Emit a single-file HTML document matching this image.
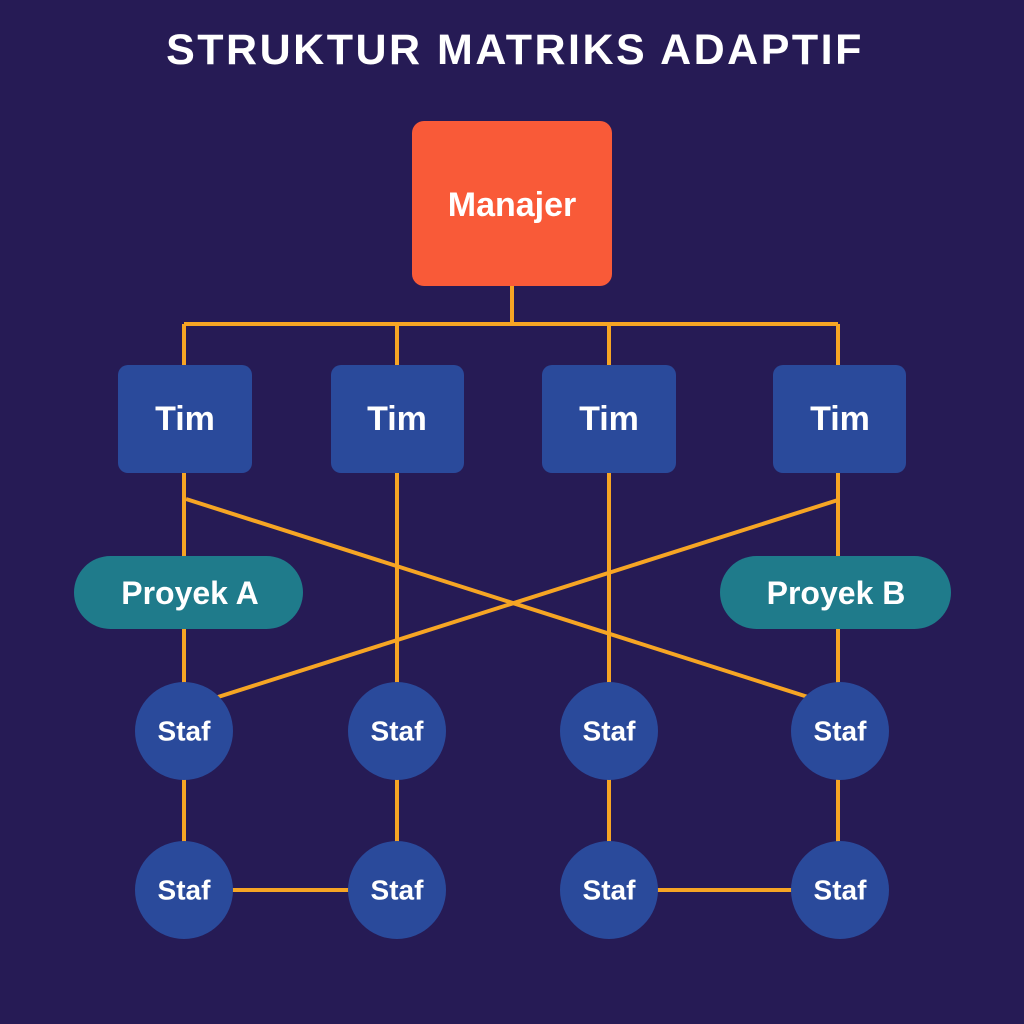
<!DOCTYPE html>
<html><head><style>
html,body{margin:0;padding:0;background:#261b55;}
svg{display:block}
text{font-family:"Liberation Sans",sans-serif;font-weight:bold;fill:#fff;text-anchor:middle;dominant-baseline:central}
</style></head><body>
<svg width="1024" height="1024" viewBox="0 0 1024 1024">
<rect width="1024" height="1024" fill="#261b55"/>
<text x="515" y="50" font-size="43" letter-spacing="2.5">STRUKTUR MATRIKS ADAPTIF</text>
<g stroke="#f6a524" stroke-width="4" fill="none">
<line x1="512" y1="286" x2="512" y2="324"/>
<line x1="184" y1="324" x2="838" y2="324"/>
<line x1="184" y1="324" x2="184" y2="366"/>
<line x1="397" y1="324" x2="397" y2="366"/>
<line x1="609" y1="324" x2="609" y2="366"/>
<line x1="838" y1="324" x2="838" y2="366"/>
<line x1="184" y1="473" x2="184" y2="890"/>
<line x1="397" y1="473" x2="397" y2="890"/>
<line x1="609" y1="473" x2="609" y2="890"/>
<line x1="838" y1="473" x2="838" y2="890"/>
<line x1="186" y1="499" x2="808" y2="697"/>
<line x1="838" y1="500" x2="218" y2="697"/>
<line x1="184" y1="890" x2="397" y2="890"/>
<line x1="609" y1="890" x2="838" y2="890"/>
</g>
<rect x="412" y="121" width="200" height="165" rx="12" fill="#f95a38"/>
<text x="512" y="205" font-size="34">Manajer</text>
<g fill="#2a4a9b">
<rect x="118" y="365" width="134" height="108" rx="10"/>
<rect x="331" y="365" width="133" height="108" rx="10"/>
<rect x="542" y="365" width="134" height="108" rx="10"/>
<rect x="773" y="365" width="133" height="108" rx="10"/>
</g>
<text x="185" y="419" font-size="34">Tim</text>
<text x="397" y="419" font-size="34">Tim</text>
<text x="609" y="419" font-size="34">Tim</text>
<text x="840" y="419" font-size="34">Tim</text>
<rect x="74" y="556" width="229" height="73" rx="36.5" fill="#1f7b8b"/>
<rect x="720" y="556" width="231" height="73" rx="36.5" fill="#1f7b8b"/>
<text x="190" y="593" font-size="32">Proyek A</text>
<text x="836" y="593" font-size="32">Proyek B</text>
<g fill="#2a4a9b">
<circle cx="184" cy="731" r="49"/><circle cx="397" cy="731" r="49"/><circle cx="609" cy="731" r="49"/><circle cx="840" cy="731" r="49"/>
<circle cx="184" cy="890" r="49"/><circle cx="397" cy="890" r="49"/><circle cx="609" cy="890" r="49"/><circle cx="840" cy="890" r="49"/>
</g>
<g font-size="28">
<text x="184" y="731">Staf</text><text x="397" y="731">Staf</text><text x="609" y="731">Staf</text><text x="840" y="731">Staf</text>
<text x="184" y="890">Staf</text><text x="397" y="890">Staf</text><text x="609" y="890">Staf</text><text x="840" y="890">Staf</text>
</g>
</svg>
</body></html>
